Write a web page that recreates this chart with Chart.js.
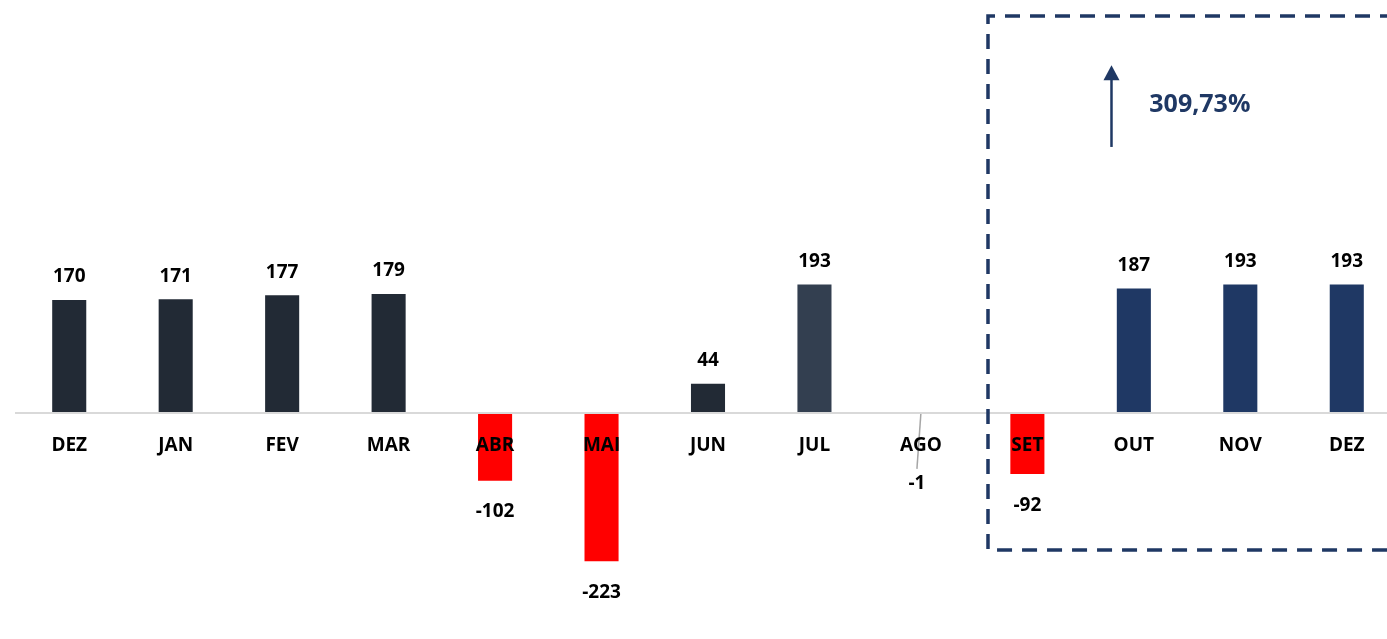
<!DOCTYPE html>
<html>
<head>
<meta charset="utf-8">
<script src="https://cdn.jsdelivr.net/npm/chart.js@4.4.0/dist/chart.umd.min.js"></script>
<style>
  html, body { margin: 0; padding: 0; background: #fff; overflow: hidden; }
  #wrap { width: 1400px; height: 639px; position: relative; }
</style>
</head>
<body>
<div id="wrap"><canvas id="chart"></canvas></div>
<script>
const months = ['DEZ', 'JAN', 'FEV', 'MAR', 'ABR', 'MAI', 'JUN', 'JUL', 'AGO', 'SET', 'OUT', 'NOV', 'DEZ'];
const values = [170, 171, 177, 179, -102, -223, 44, 193, -1, -92, 187, 193, 193];
const barColors = ['#222A35', '#222A35', '#222A35', '#222A35', '#FF0000', '#FF0000', '#222A35',
  '#333F50', '#FF0000', '#FF0000', '#1F3864', '#1F3864', '#1F3864'];
const growthLabel = '309,73%';

const navy = '#1F3864';
const labelFont = 'bold 19px "Open Sans"';

// rótulos de valor acima / abaixo das barras
const valueLabels = {
  id: 'valueLabels',
  afterDatasetsDraw(chart) {
    const ctx = chart.ctx;
    const meta = chart.getDatasetMeta(0);
    const zeroY = chart.scales.y.getPixelForValue(0);
    ctx.save();
    ctx.font = labelFont;
    ctx.fillStyle = '#000';
    ctx.textAlign = 'center';
    ctx.textBaseline = 'middle';
    meta.data.forEach((bar, i) => {
      const v = values[i];
      const h = Math.abs(bar.y - zeroY);
      if (h < 5) {
        // barra quase nula: rótulo abaixo do mês com linha guia
        ctx.strokeStyle = '#A6A6A6';
        ctx.lineWidth = 1.5;
        ctx.beginPath();
        ctx.moveTo(bar.x, zeroY);
        ctx.lineTo(bar.x - 4, zeroY + 56);
        ctx.stroke();
        ctx.fillText(String(v), bar.x - 4, zeroY + 71);
      } else if (v >= 0) {
        ctx.fillText(String(v), bar.x, bar.y - 23);
      } else {
        ctx.fillText(String(v), bar.x, bar.y + 31);
      }
    });
    ctx.restore();
  }
};

// caixa tracejada com seta e percentual
const highlightBox = {
  id: 'highlightBox',
  afterDraw(chart) {
    const { ctx, scales: { x, y }, chartArea } = chart;
    const left = x.getPixelForValue(8.63);
    const top = y.getPixelForValue(597);
    const bottom = y.getPixelForValue(-206);
    const right = chartArea.right + 20;
    ctx.save();
    ctx.strokeStyle = navy;
    ctx.lineWidth = 3.5;
    ctx.setLineDash([15, 10]);
    ctx.beginPath();
    ctx.moveTo(right, top);
    ctx.lineTo(left, top);
    ctx.lineTo(left, bottom);
    ctx.lineTo(right, bottom);
    ctx.stroke();

    // seta
    const ax = x.getPixelForValue(9.79);
    const ay1 = y.getPixelForValue(400);
    const ay2 = y.getPixelForValue(523);
    ctx.setLineDash([]);
    ctx.lineWidth = 2.5;
    ctx.beginPath();
    ctx.moveTo(ax, ay1);
    ctx.lineTo(ax, ay2 + 12);
    ctx.stroke();
    ctx.fillStyle = navy;
    ctx.beginPath();
    ctx.moveTo(ax, ay2);
    ctx.lineTo(ax - 8, ay2 + 15);
    ctx.lineTo(ax + 8, ay2 + 15);
    ctx.closePath();
    ctx.fill();

    ctx.font = 'bold 25px "Open Sans"';
    ctx.textAlign = 'center';
    ctx.textBaseline = 'middle';
    ctx.fillText(growthLabel, x.getPixelForValue(10.62), y.getPixelForValue(463));
    ctx.restore();
  }
};

new Chart(document.getElementById('chart'), {
  type: 'bar',
  data: {
    labels: months,
    datasets: [{
      data: values,
      backgroundColor: barColors,
      borderWidth: 0,
      barPercentage: 1,
      categoryPercentage: 0.32
    }]
  },
  options: {
    responsive: true,
    maintainAspectRatio: false,
    animation: false,
    layout: { padding: { left: 16, right: 0, top: 0, bottom: 0 } },
    plugins: { legend: { display: false }, tooltip: { enabled: false } },
    scales: {
      x: {
        position: { y: 0 },
        grid: { display: false },
        border: { display: true, color: '#D9D9D9', width: 2, z: 1 },
        ticks: {
          z: 1,
          color: '#000',
          font: { family: 'Open Sans', size: 19, weight: 'bold' },
          padding: 13,
          maxRotation: 0,
          autoSkip: false
        }
      },
      y: {
        display: false,
        min: -340,
        max: 621
      }
    }
  },
  plugins: [valueLabels, highlightBox]
});
</script>
</body>
</html>
